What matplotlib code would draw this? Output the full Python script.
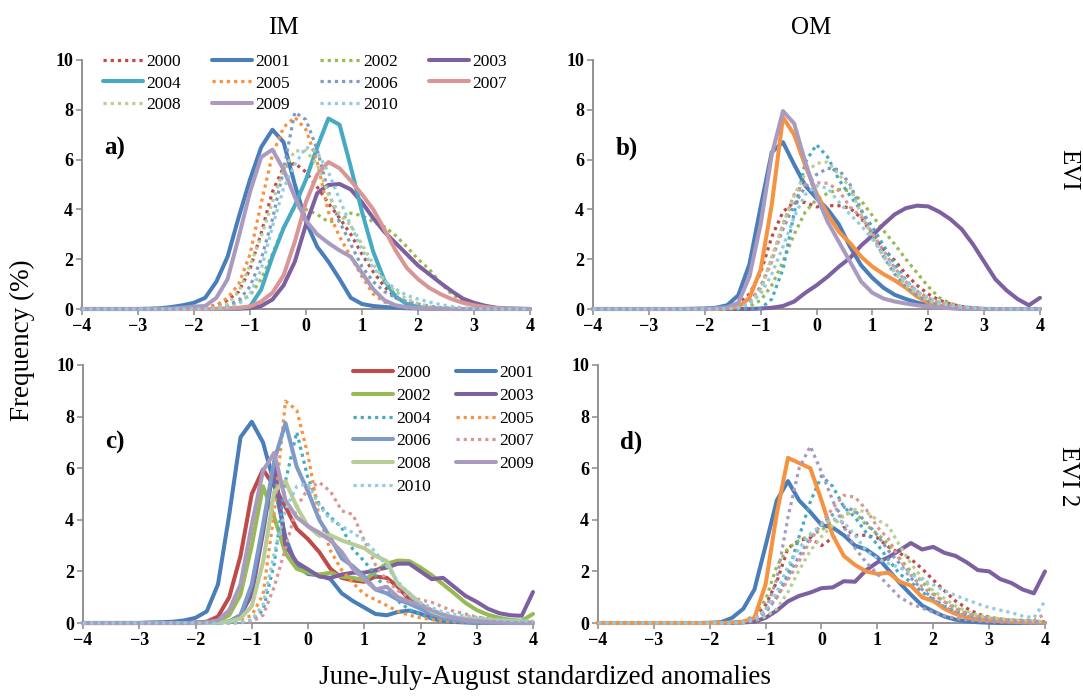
import numpy as np
import matplotlib
matplotlib.use("Agg")
import matplotlib.pyplot as plt

# x grid (standardized anomaly), step 0.2 from -4 to 4
X = np.round(np.arange(-4.0, 4.0001, 0.2), 1)
YEARS = [2000, 2001, 2002, 2003, 2004, 2005, 2006, 2007, 2008, 2009, 2010]

# ---------------- Panel a) EVI / IM ----------------
A_2000 = [0,0,0,0,0, 0,0,0,0.01,0.02, 0.03,0.06,0.15,0.35,0.7, 1.6,3.05,4.7,5.7,5.85, 5.5,4.9,4.25,3.65,3.0, 2.2,1.5,0.9,0.45,0.25, 0.12,0.06,0.03,0.02,0.01, 0,0,0,0,0, 0]
A_2001 = [0,0,0,0,0, 0,0.01,0.03,0.08,0.15, 0.25,0.45,1.1,2.1,3.7, 5.2,6.5,7.2,6.7,5.0, 3.5,2.5,1.9,1.2,0.45, 0.2,0.12,0.08,0.05,0.03, 0.02,0.01,0,0,0, 0,0,0,0,0, 0]
A_2002 = [0,0,0,0,0, 0,0,0,0,0, 0.01,0.02,0.05,0.1,0.3, 0.55,1.2,2.2,3.3,4.1, 4.0,3.8,3.5,3.55,3.85, 3.75,3.5,3.3,2.95,2.5, 2.0,1.6,1.05,0.6,0.32, 0.17,0.08,0.03,0.01,0, 0]
A_2003 = [0,0,0,0,0, 0,0,0,0,0, 0,0,0,0,0.01, 0.03,0.12,0.38,0.95,1.9, 3.4,4.65,4.98,5.02,4.8, 4.28,3.65,3.1,2.65,2.2, 1.75,1.4,1.05,0.72,0.42, 0.25,0.13,0.05,0.02,0.01, 0]
A_2004 = [0,0,0,0,0, 0,0,0,0,0, 0,0,0,0.01,0.02, 0.1,0.78,2.1,3.25,4.15, 5.2,6.5,7.65,7.4,5.7, 3.9,2.3,1.15,0.5,0.2, 0.08,0.03,0.01,0,0, 0,0,0,0,0, 0]
A_2005 = [0,0,0,0,0, 0,0,0,0,0.01, 0.02,0.06,0.15,0.45,1.0, 2.2,4.25,6.2,7.3,7.7, 7.2,5.9,3.9,2.9,2.1, 1.3,0.6,0.28,0.12,0.05, 0.02,0.01,0,0,0, 0,0,0,0,0, 0]
A_2006 = [0,0,0,0,0, 0,0,0,0,0, 0.01,0.02,0.05,0.15,0.35, 0.9,2.0,3.6,5.6,7.9, 7.6,6.4,4.7,3.5,2.6, 1.7,1.1,0.7,0.45,0.3, 0.2,0.12,0.06,0.03,0.01, 0,0,0,0,0, 0]
A_2007 = [0,0,0,0,0, 0,0,0,0,0, 0,0,0.01,0.02,0.05, 0.1,0.3,0.65,1.35,2.7, 4.3,5.4,5.9,5.65,5.15, 4.6,4.0,3.2,2.35,1.65, 1.2,0.85,0.6,0.4,0.25, 0.15,0.08,0.04,0.02,0.01, 0]
A_2008 = [0,0,0,0,0, 0,0,0,0,0, 0,0.02,0.05,0.2,0.7, 1.75,2.9,4.3,5.6,6.35, 6.35,5.8,4.6,3.8,3.35, 2.6,1.8,1.15,0.7,0.4, 0.22,0.1,0.05,0.02,0.01, 0,0,0,0,0, 0]
A_2009 = [0,0,0,0,0, 0,0,0,0.02,0.05, 0.1,0.12,0.45,1.2,2.9, 4.7,6.1,6.4,5.6,4.5, 3.55,3.0,2.65,2.35,2.1, 1.45,0.8,0.35,0.15,0.07, 0.04,0.02,0.01,0,0, 0,0,0,0,0, 0]
A_2010 = [0,0,0,0,0, 0,0,0,0,0, 0,0.01,0.03,0.06,0.2, 0.6,1.6,3.3,4.85,5.8, 6.5,6.3,5.5,4.4,3.35, 2.4,1.65,1.15,0.8,0.55, 0.4,0.28,0.18,0.1,0.05, 0.02,0.01,0,0,0, 0]

# ---------------- Panel b) EVI / OM ----------------
B_2000 = [0,0,0,0,0, 0,0,0,0,0, 0,0.02,0.05,0.2,0.6, 1.45,2.9,3.9,4.3,4.28, 4.1,4.15,4.15,4.05,3.65, 3.0,2.4,1.95,1.4,0.95, 0.6,0.35,0.2,0.1,0.05, 0.02,0.01,0,0,0, 0]
B_2001 = [0,0,0,0,0, 0,0,0,0,0.01, 0.02,0.05,0.15,0.55,1.8, 4.1,6.3,6.7,5.8,4.95, 4.45,4.0,3.4,2.5,1.75, 1.25,0.85,0.57,0.4,0.26, 0.15,0.08,0.04,0.02,0.01, 0,0,0,0,0, 0]
B_2002 = [0,0,0,0,0, 0,0,0,0,0, 0,0,0.02,0.04,0.1, 0.35,0.95,1.9,3.0,3.9, 4.4,4.65,4.8,4.75,4.35, 3.75,3.15,2.6,2.0,1.45, 0.9,0.45,0.22,0.1,0.05, 0.02,0.01,0,0,0, 0]
B_2003 = [0,0,0,0,0, 0,0,0,0,0, 0,0,0,0,0, 0.02,0.05,0.12,0.3,0.65, 0.95,1.3,1.7,2.05,2.55, 2.95,3.4,3.8,4.05,4.15, 4.12,3.9,3.6,3.2,2.6, 1.9,1.2,0.75,0.4,0.15, 0.45]
B_2004 = [0,0,0,0,0, 0,0,0,0,0, 0,0,0,0,0.01, 0.02,0.4,1.6,3.85,5.9, 6.6,6.1,5.2,4.55,3.95, 3.3,2.55,1.8,1.15,0.7, 0.38,0.18,0.09,0.04,0.02, 0.01,0,0,0,0, 0]
B_2005 = [0,0,0,0,0, 0,0,0,0,0, 0,0,0.03,0.08,0.45, 1.58,4.2,7.7,7.0,5.75, 4.65,3.8,3.1,2.65,2.1, 1.7,1.4,1.15,0.85,0.5, 0.25,0.13,0.07,0.03,0.01, 0,0,0,0,0, 0]
B_2006 = [0,0,0,0,0, 0,0,0,0,0, 0,0,0.01,0.05,0.25, 0.9,2.0,3.2,4.2,4.9, 5.4,5.65,5.6,5.0,4.0, 3.0,2.1,1.4,0.9,0.55, 0.3,0.15,0.07,0.03,0.01, 0,0,0,0,0, 0]
B_2007 = [0,0,0,0,0, 0,0,0,0,0, 0,0,0.02,0.08,0.3, 0.85,1.9,3.4,4.6,5.0, 5.07,5.05,4.75,4.1,3.7, 3.05,2.35,1.65,1.1,0.72, 0.45,0.25,0.13,0.06,0.03, 0.01,0,0,0,0, 0]
B_2008 = [0,0,0,0,0, 0,0,0,0,0, 0,0,0.01,0.05,0.2, 0.75,2.1,3.4,4.55,5.45, 5.85,5.9,5.4,4.9,3.8, 2.9,2.1,1.45,0.95,0.6, 0.35,0.18,0.08,0.04,0.02, 0.01,0,0,0,0, 0]
B_2009 = [0,0,0,0,0, 0,0,0,0,0, 0,0.03,0.06,0.25,1.3, 3.4,6.2,7.95,7.45,5.9, 4.55,3.5,2.7,1.9,1.1, 0.65,0.42,0.3,0.22,0.15, 0.1,0.06,0.03,0.01,0, 0,0,0,0,0, 0]
B_2010 = [0,0,0,0,0, 0,0,0,0,0, 0,0,0.01,0.05,0.2, 0.6,1.4,2.5,3.7,4.6, 4.95,4.85,4.3,3.8,3.35, 2.8,2.2,1.6,1.1,0.7, 0.45,0.28,0.15,0.08,0.04, 0.02,0.01,0,0,0, 0]

# ---------------- Panel c) EVI2 / IM ----------------
C_2000 = [0,0,0,0,0, 0,0,0,0,0, 0.02,0.05,0.25,1.0,2.6, 5.0,5.95,5.3,4.5,3.65, 3.25,2.75,2.1,1.75,1.65, 1.6,1.8,1.75,1.4,0.9, 0.6,0.3,0.15,0.08,0.04, 0.02,0.01,0,0,0, 0]
C_2001 = [0,0,0,0,0, 0,0.02,0.03,0.05,0.1, 0.2,0.45,1.5,4.2,7.2, 7.8,7.0,5.4,3.3,2.2, 1.9,1.85,1.7,1.15,0.85, 0.6,0.35,0.3,0.43,0.48, 0.36,0.17,0.08,0.04,0.02, 0.01,0,0,0,0, 0]
C_2002 = [0,0,0,0,0, 0,0,0,0,0, 0,0.02,0.08,0.3,1.1, 3.0,5.3,4.1,2.7,2.1, 1.95,1.88,1.95,1.8,1.75, 1.65,2.0,2.3,2.42,2.4, 2.15,1.85,1.5,1.15,0.78, 0.5,0.32,0.2,0.12,0.09, 0.35]
C_2003 = [0,0,0,0,0, 0,0,0,0,0, 0,0,0.02,0.06,0.3, 1.1,3.5,6.2,3.0,2.35, 2.08,1.8,1.75,1.88,1.95, 1.95,2.05,2.15,2.3,2.3, 2.0,1.7,1.75,1.4,1.05, 0.82,0.55,0.38,0.3,0.28, 1.2]
C_2004 = [0,0,0,0,0, 0,0,0,0,0, 0,0,0,0,0.02, 0.08,0.5,2.3,5.5,7.4, 5.6,4.6,4.1,3.7,2.85, 2.4,1.85,1.27,0.85,0.52, 0.33,0.2,0.12,0.07,0.04, 0.02,0.01,0,0,0, 0]
C_2005 = [0,0,0,0,0, 0,0,0,0,0, 0,0,0.02,0.05,0.12, 0.3,1.1,4.3,8.6,8.25, 6.5,4.1,2.8,2.05,1.55, 1.12,0.9,0.68,0.45,0.3, 0.2,0.13,0.08,0.05,0.03, 0.01,0,0,0,0, 0]
C_2006 = [0,0,0,0,0, 0,0,0,0,0, 0,0,0.01,0.05,0.3, 1.5,3.8,6.3,7.75,6.05, 5.1,4.0,3.3,2.5,2.2, 1.8,1.3,1.15,0.9,0.75, 0.55,0.35,0.2,0.12,0.06, 0.03,0.01,0,0,0, 0]
C_2007 = [0,0,0,0,0, 0,0,0,0,0, 0,0,0,0,0.01, 0.05,0.3,1.4,2.9,4.5, 5.2,5.45,5.1,4.35,4.2, 3.2,2.25,1.65,1.25,1.0, 0.9,0.8,0.62,0.45,0.35, 0.23,0.17,0.12,0.08,0.05, 0.03]
C_2008 = [0,0,0,0,0, 0,0,0,0,0, 0,0,0.02,0.05,0.18, 0.65,2.35,5.1,5.5,4.5, 3.75,3.38,3.4,3.2,3.05, 2.9,2.6,2.4,1.5,1.15, 0.75,0.45,0.3,0.22,0.18, 0.15,0.12,0.1,0.08,0.06, 0.05]
C_2009 = [0,0,0,0,0, 0,0,0,0,0, 0,0.03,0.1,0.5,1.5, 3.8,5.9,6.6,4.75,4.1, 3.75,3.5,3.2,2.75,2.1, 1.7,1.3,1.4,1.0,0.82, 0.7,0.5,0.33,0.2,0.12, 0.08,0.05,0.03,0.01,0, 0]
C_2010 = [0,0,0,0,0, 0,0,0,0,0, 0,0,0,0,0.03, 0.12,0.7,2.7,4.4,5.3, 5.4,4.55,4.0,3.75,3.5, 3.2,2.75,2.2,1.6,1.1, 0.78,0.6,0.42,0.33,0.28, 0.22,0.17,0.13,0.1,0.08, 0.06]

# ---------------- Panel d) EVI2 / OM ----------------
D_2000 = [0,0,0,0,0, 0,0,0,0,0, 0,0,0.02,0.06,0.2, 0.7,1.6,2.9,3.2,3.3, 3.0,3.3,3.7,3.4,3.4, 3.3,2.95,2.7,2.48,2.1, 1.67,1.25,0.85,0.57,0.35, 0.22,0.15,0.1,0.08,0.06, 0.05]
D_2001 = [0,0,0,0,0, 0,0,0,0,0, 0.01,0.03,0.2,0.55,1.3, 3.0,4.75,5.5,4.75,4.3, 3.8,3.7,3.4,3.0,2.85, 2.55,2.05,1.55,1.1,0.68, 0.45,0.25,0.13,0.06,0.03, 0.01,0,0,0,0, 0]
D_2002 = [0,0,0,0,0, 0,0,0,0,0, 0,0,0.02,0.05,0.3, 0.9,2.2,2.9,3.2,3.4, 3.6,3.9,4.2,4.3,3.8, 3.45,3.05,2.5,2.0,1.6, 1.15,0.82,0.6,0.4,0.28, 0.2,0.15,0.11,0.09,0.07, 0.05]
D_2003 = [0,0,0,0,0, 0,0,0,0,0, 0,0,0,0.02,0.05, 0.2,0.48,0.84,1.05,1.18, 1.35,1.38,1.62,1.6,2.05, 2.35,2.55,2.82,3.1,2.85, 2.95,2.72,2.6,2.35,2.05, 2.0,1.7,1.55,1.3,1.15, 2.0]
D_2004 = [0,0,0,0,0, 0,0,0,0,0, 0,0,0.01,0.03,0.15, 0.45,1.0,1.9,3.35,4.7, 5.7,5.3,4.5,4.1,3.5, 3.05,2.45,1.9,1.58,1.2, 0.9,0.62,0.4,0.26,0.17, 0.12,0.09,0.06,0.04,0.03, 0.02]
D_2005 = [0,0,0,0,0, 0,0,0,0,0, 0,0,0.02,0.05,0.2, 1.5,4.25,6.4,6.2,6.0, 4.75,3.4,2.6,2.25,2.0, 1.9,1.95,1.6,1.45,1.0, 0.85,0.55,0.35,0.2,0.13, 0.1,0.07,0.05,0.03,0.02, 0.01]
D_2006 = [0,0,0,0,0, 0,0,0,0,0, 0,0,0.01,0.03,0.12, 0.4,1.0,1.8,2.6,3.3, 3.8,4.2,4.5,4.35,3.9, 3.4,2.8,2.3,1.75,1.3, 0.95,0.65,0.45,0.3,0.2, 0.14,0.1,0.08,0.06,0.05, 0.05]
D_2007 = [0,0,0,0,0, 0,0,0,0,0, 0,0,0.02,0.06,0.2, 0.5,1.0,1.67,2.4,3.2, 3.85,4.45,4.95,4.88,4.4, 3.72,3.25,2.45,1.85,1.4, 1.1,0.82,0.54,0.36,0.25, 0.18,0.14,0.12,0.11,0.1, 0.35]
D_2008 = [0,0,0,0,0, 0,0,0,0,0, 0,0,0,0.02,0.08, 0.25,0.55,1.2,2.05,2.8, 3.35,3.78,4.15,4.4,4.3, 4.0,3.75,3.0,2.3,1.75, 1.25,0.95,0.66,0.45,0.3, 0.22,0.16,0.12,0.09,0.07, 0.06]
D_2009 = [0,0,0,0,0, 0,0,0,0,0, 0,0,0,0.02,0.08, 0.5,1.7,4.1,6.0,6.85, 5.85,4.75,3.75,2.9,2.35, 1.9,1.45,1.0,0.75,0.58, 0.42,0.28,0.18,0.12,0.08, 0.05,0.03,0.02,0.01,0, 0]
D_2010 = [0,0,0,0,0, 0,0,0,0,0, 0,0,0,0.03,0.15, 0.5,1.2,2.2,2.9,3.45, 3.8,4.05,3.9,3.4,2.8, 2.5,2.3,2.15,1.9,1.67, 1.48,1.25,1.07,0.9,0.74, 0.6,0.5,0.4,0.27,0.2, 0.85]

X_TICKS = [-4, -3, -2, -1, 0, 1, 2, 3, 4]
Y_TICKS = [0, 2, 4, 6, 8, 10]

# ---------------- styles ----------------
COLORS = {2000: '#BE4B48', 2001: '#4A7EBB', 2002: '#98B954', 2003: '#7D60A0',
          2004: '#46AAC5', 2005: '#F69240', 2006: '#7E9BC8', 2007: '#D99694',
          2008: '#B9CD96', 2009: '#A99BC0', 2010: '#92CDDC'}
SOLID = {'a': {2001, 2003, 2004, 2007, 2009},
         'b': {2001, 2003, 2005, 2009},
         'c': {2000, 2001, 2002, 2003, 2006, 2008, 2009},
         'd': {2001, 2003, 2005}}

PANELS = {
    'a': [A_2000, A_2001, A_2002, A_2003, A_2004, A_2005, A_2006, A_2007, A_2008, A_2009, A_2010],
    'b': [B_2000, B_2001, B_2002, B_2003, B_2004, B_2005, B_2006, B_2007, B_2008, B_2009, B_2010],
    'c': [C_2000, C_2001, C_2002, C_2003, C_2004, C_2005, C_2006, C_2007, C_2008, C_2009, C_2010],
    'd': [D_2000, D_2001, D_2002, D_2003, D_2004, D_2005, D_2006, D_2007, D_2008, D_2009, D_2010],
}

SERIF = 'Liberation Serif'
plt.rcParams['font.family'] = SERIF

W, H = 1083, 696
fig = plt.figure(figsize=(W / 100, H / 100), dpi=100)


def rect(l, r, t, b):
    return [l / W, 1 - b / H, (r - l) / W, (b - t) / H]


POS = {'a': rect(82, 530, 60, 309), 'b': rect(593, 1040, 60, 309),
       'c': rect(83, 533, 365, 623), 'd': rect(598, 1045, 365, 623)}

GRAY = '#8A8A8A'
axes = {}
for key in ['a', 'b', 'c', 'd']:
    ax = fig.add_axes(POS[key])
    axes[key] = ax
    handles = []
    for yr, vals in zip(YEARS, PANELS[key]):
        if yr in SOLID[key]:
            ln, = ax.plot(X, vals, color=COLORS[yr], lw=2.9, solid_joinstyle='round',
                          solid_capstyle='round', clip_on=False, zorder=3, label=str(yr))
        else:
            ln, = ax.plot(X, vals, color=COLORS[yr], lw=2.3, linestyle=(0, (1, 1.25)),
                          clip_on=False, zorder=3, label=str(yr))
        handles.append(ln)
    ax.set_xlim(-4, 4)
    ax.set_ylim(0, 10)
    ax.set_xticks(X_TICKS)
    ax.set_yticks(Y_TICKS)
    for s in ['top', 'right']:
        ax.spines[s].set_visible(False)
    for s in ['left', 'bottom']:
        ax.spines[s].set_color(GRAY)
        ax.spines[s].set_linewidth(1.3)
    ax.tick_params(direction='out', length=4, width=1.1, color=GRAY, labelsize=13, pad=2.5)
    for lab in ax.get_xticklabels() + ax.get_yticklabels():
        lab.set_fontweight('bold')
        lab.set_family(SERIF)
    ax.patch.set_alpha(0)
    ax.text(-3.6, 6.45 if key in 'ab' else 7.0, key + ')', fontsize=18, fontweight='bold',
            va='center', ha='left', family=SERIF)
    axes[key + '_h'] = handles

# legend panel a: 4 columns, row-major order
ha_ = axes['a_h']
order_a = [0, 4, 8, 1, 5, 9, 2, 6, 10, 3, 7]
axes['a'].legend([ha_[i] for i in order_a], [str(YEARS[i]) for i in order_a],
                 loc='upper left', bbox_to_anchor=(0.047, 1.026), ncol=4, frameon=False,
                 fontsize=12.5, handlelength=2.3, handletextpad=0.2, columnspacing=1.75,
                 labelspacing=0.33, borderpad=0, borderaxespad=0)

# legend panel c: 2 columns, row-major order
hc_ = axes['c_h']
order_c = [0, 2, 4, 6, 8, 10, 1, 3, 5, 7, 9]
axes['c'].legend([hc_[i] for i in order_c], [str(YEARS[i]) for i in order_c],
                 loc='upper left', bbox_to_anchor=(0.6, 1.0), ncol=2, frameon=False,
                 fontsize=12.5, handlelength=2.3, handletextpad=0.2, columnspacing=1.45,
                 labelspacing=0.38, borderpad=0, borderaxespad=0)

fig.text(283 / W, 1 - 28 / H, 'IM', fontsize=18, ha='center', va='center')
fig.text(811 / W, 1 - 28 / H, 'OM', fontsize=18, ha='center', va='center')
fig.text(1068 / W, 1 - 170 / H, 'EVI', fontsize=18, ha='center', va='center', rotation=270)
fig.text(1068 / W, 1 - 476 / H, 'EVI 2', fontsize=18, ha='center', va='center', rotation=270)
fig.text(22 / W, 1 - 340 / H, 'Frequency (%)', fontsize=19.5, ha='center', va='center', rotation=90)
fig.text(545 / W, 1 - 678 / H, 'June-July-August standardized anomalies', fontsize=19.5,
         ha='center', va='center')

fig.savefig('out.png', dpi=100)
